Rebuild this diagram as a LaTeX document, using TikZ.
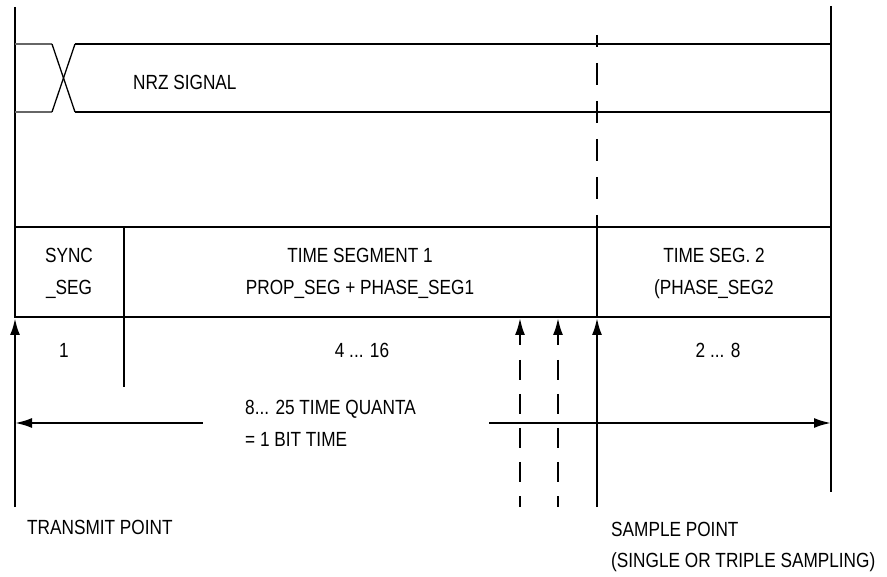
\documentclass[tikz,border=0pt]{standalone}
\usepackage{fontspec}
\setmainfont{Liberation Sans}[FakeStretch=0.84]
\usetikzlibrary{arrows.meta}
\begin{document}
\begin{tikzpicture}[x=1pt,y=-1pt,
  frame/.style={line width=2.6pt},
  lower/.style={line width=2.2pt},
  edge/.style={line width=1.3pt},
  grayedge/.style={line width=1.3pt, draw=black!60},
  arr/.style={-{Latex[length=17pt,width=10pt]}},
  dbl/.style={{Latex[length=17pt,width=10pt]}-{Latex[length=17pt,width=10pt]}},
  lbl/.style={inner sep=0pt, text height=14.7pt, text depth=0pt, font=\fontsize{20.5}{24}\selectfont},
]
\useasboundingbox (0,0) rectangle (887,577);
% frame coordinates
\coordinate (LT) at (15,7);
\coordinate (LM) at (15,318);
\coordinate (LB) at (15,507);
\coordinate (RT) at (831,6);
\coordinate (RB) at (831,492);
% NRZ signal
\coordinate (ga) at (15,44);
\coordinate (gb) at (52,44);
\coordinate (gc) at (15,112);
\coordinate (gd) at (52,112);
\coordinate (ha) at (75,44);
\coordinate (hb) at (75,112);
\coordinate (hc) at (831,44);
\coordinate (hd) at (831,112);
% table
\coordinate (TT1) at (15,227);
\coordinate (TT2) at (831,227);
\coordinate (TM1) at (15,317);
\coordinate (TM2) at (831,317);
\coordinate (SY1) at (124,227);
\coordinate (SY2) at (124,387);
% sample point
\coordinate (SPtop) at (597,35);
\coordinate (SPtab) at (597,227);
\coordinate (SPtip) at (597,318);
\coordinate (SPbot) at (597,507);
% extra samples
\coordinate (A1tip) at (520,318);
\coordinate (A1a) at (520,345);
\coordinate (A1b) at (520,360);
\coordinate (A1bot) at (520,507);
\coordinate (A2tip) at (558,318);
\coordinate (A2a) at (558,345);
\coordinate (A2b) at (558,360);
\coordinate (A2bot) at (558,507);
% bit time arrow
\coordinate (BL) at (15,423);
\coordinate (BLe) at (203,423);
\coordinate (BRs) at (489,423);
\coordinate (BR) at (831,423);

% outer verticals
\draw[frame] (LT) -- (LM);
\draw[frame, arr] (LB) -- (LM);
\draw[frame] (RT) -- (RB);

% NRZ
\draw[grayedge] (ga) -- (gb);
\draw[grayedge] (gc) -- (gd);
\draw[edge] (gb) -- (hb);
\draw[edge] (gd) -- (ha);
\draw[frame] (ha) -- (hc);
\draw[frame] (hb) -- (hd);

% table
\draw[frame] (TT1) -- (TT2);
\draw[frame] (TM1) -- (TM2);
\draw[frame] (SY1) -- (SY2);

% sample point line
\draw[lower, dash pattern=on 22pt off 16pt, dash phase=10pt] (SPtop) -- (SPtab);
\draw[frame] (SPtab) -- (SPtip);
\draw[lower, arr] (SPbot) -- (SPtip);

% additional sample arrows
\draw[lower, arr] (A1a) -- (A1tip);
\draw[lower, dash pattern=on 20pt off 14pt] (A1b) -- (A1bot);
\draw[lower, arr] (A2a) -- (A2tip);
\draw[lower, dash pattern=on 20pt off 14pt] (A2b) -- (A2bot);

% bit time arrow
\draw[lower, {Latex[length=17pt,width=10pt]}-] (BL) -- (BLe);
\draw[lower, -{Latex[length=17pt,width=10pt]}] (BRs) -- (BR);

% labels
\node[lbl, anchor=west] (nrz) at (133,82) {NRZ SIGNAL};
\node[lbl] (sync1) at (69,255) {SYNC};
\node[lbl] (sync2) at (69,287) {\_SEG};
\node[lbl] (ts1a) at (360,255) {TIME SEGMENT 1};
\node[lbl] (ts1b) at (360,287) {PROP\_SEG + PHASE\_SEG1};
\node[lbl] (ts2a) at (714,255) {TIME SEG. 2};
\node[lbl] (ts2b) at (714,287) {(PHASE\_SEG2};
\node[lbl] (n1) at (64,350) {1};
\node[lbl] (n2) at (362,350) {4 ... 16};
\node[lbl] (n3) at (718,350) {2 ... 8};
\node[lbl, anchor=west] (bt1) at (245,407) {8... 25 TIME QUANTA};
\node[lbl, anchor=west] (bt2) at (245,439) {= 1 BIT TIME};
\node[lbl, anchor=west] (tp) at (27,527) {TRANSMIT POINT};
\node[lbl, anchor=west] (sp1) at (611,529) {SAMPLE POINT};
\node[lbl, anchor=west] (sp2) at (611,560) {(SINGLE OR TRIPLE SAMPLING)};
\end{tikzpicture}
\end{document}
